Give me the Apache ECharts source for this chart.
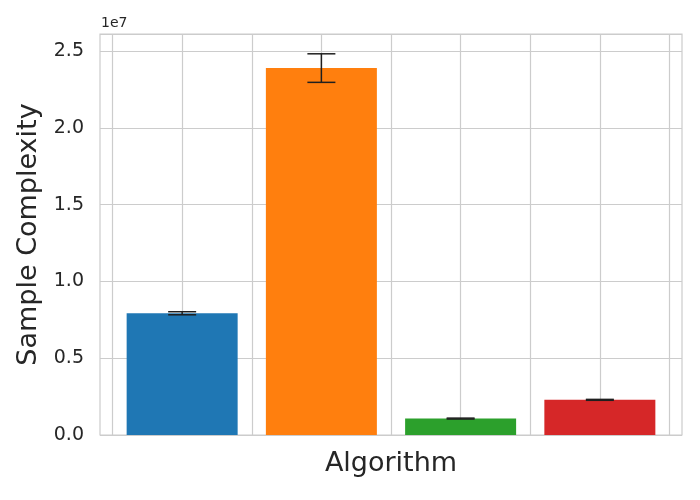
<!DOCTYPE html>
<html>
<head>
<meta charset="utf-8">
<script src="https://cdn.jsdelivr.net/npm/echarts@6/dist/echarts.min.js"></script>
<style>html,body{margin:0;padding:0;background:#fff}#c{width:700px;height:500px}</style>
</head>
<body>
<div id="c"></div>
<script>
const positions = [0, 1, 2, 3];
const values = [7.93e6, 2.39e7, 1.07e6, 2.29e6];
const errors = [1.0e5, 9.3e5, 3e4, 3e4];
const colors = ['#1f77b4', '#ff7f0e', '#2ca02c', '#d62728'];
const gridTicks = [-0.5, 3.5];
const yTicks = [0, 2.5e7];

const chart = echarts.init(document.getElementById('c'), null, {renderer: 'canvas'});
const font = 'DejaVu Sans';
const option = {
  animation: false,
  backgroundColor: '#ffffff',
  textStyle: {fontFamily: font},
  graphic: [{type: 'text', left: 101, top: 16, style: {text: '1e7', font: '14px "DejaVu Sans"', fill: '#262626'}}],
  grid: [
    {left: 100, right: 18, top: 34, bottom: 65, show: true, borderColor: '#cccccc', borderWidth: 1.2, backgroundColor: 'transparent'},
    {left: 112.5, right: 30.5, top: 34, bottom: 65, show: false}
  ],
  xAxis: [
    {type: 'value', gridIndex: 0, min: -0.59, max: 3.59,
     axisLine: {show: false}, axisTick: {show: false}, axisLabel: {show: false}, splitLine: {show: false},
     name: 'Algorithm', nameLocation: 'middle', nameGap: 15,
     nameTextStyle: {fontSize: 27, color: '#262626', fontFamily: font}},
    {type: 'value', gridIndex: 1, min: gridTicks[0], max: gridTicks[1], interval: 0.5,
     axisLine: {show: false}, axisTick: {show: false}, axisLabel: {show: false},
     splitLine: {show: true, lineStyle: {color: '#cccccc', width: 1.2}}}
  ],
  yAxis: [
    {type: 'value', gridIndex: 0, min: yTicks[0], max: 2.612e7, interval: 5e6,
     axisLine: {show: false}, axisTick: {show: false},
     axisLabel: {fontSize: 19, color: '#262626', fontFamily: font, margin: 16,
       formatter: v => (v % 5e6 === 0 && v <= yTicks[1]) ? (v / 1e7).toFixed(1) : ''},
     splitLine: {show: true, lineStyle: {color: '#cccccc', width: 1.2}},
     name: 'Sample Complexity', nameLocation: 'middle', nameGap: 55,
     nameTextStyle: {fontSize: 27, color: '#262626', fontFamily: font}},
    {type: 'value', gridIndex: 1, min: 0, max: 1, show: false, splitLine: {show: false}}
  ],
  series: [
    {type: 'bar', xAxisIndex: 0, yAxisIndex: 0, barWidth: 111,
     data: positions.map((p, i) => ({value: [p, values[i]], itemStyle: {color: colors[i]}})),
     z: 2},
    {type: 'custom', xAxisIndex: 0, yAxisIndex: 0, z: 5,
     data: positions.map((p, i) => [p, values[i] - errors[i], values[i] + errors[i]]),
     encode: {x: 0, y: [1, 2]},
     renderItem: function (params, api) {
       const lo = api.coord([api.value(0), api.value(1)]);
       const hi = api.coord([api.value(0), api.value(2)]);
       const cap = 14;
       const st = {stroke: '#1f1f1f', lineWidth: 1.5};
       return {type: 'group', children: [
         {type: 'line', shape: {x1: lo[0], y1: lo[1], x2: hi[0], y2: hi[1]}, style: st},
         {type: 'line', shape: {x1: lo[0] - cap, y1: lo[1], x2: lo[0] + cap, y2: lo[1]}, style: st},
         {type: 'line', shape: {x1: hi[0] - cap, y1: hi[1], x2: hi[0] + cap, y2: hi[1]}, style: st}
       ]};
     }}
  ]
};
chart.setOption(option);
</script>
</body>
</html>
